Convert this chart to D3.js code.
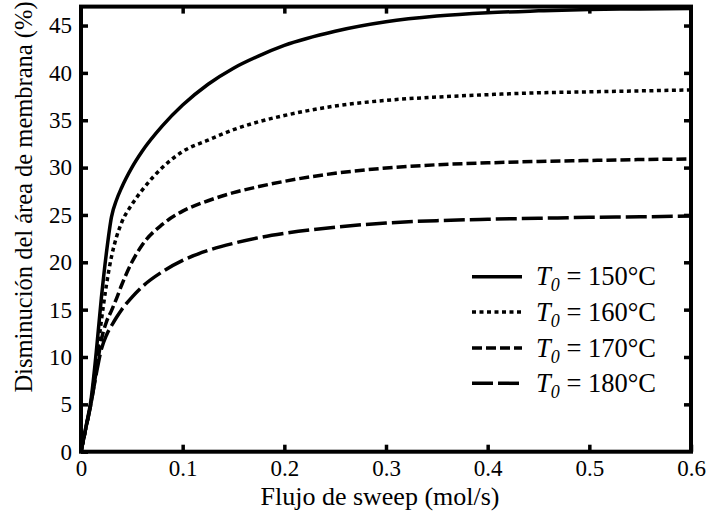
<!DOCTYPE html>
<html>
<head>
<meta charset="utf-8">
<script src="https://cdn.jsdelivr.net/npm/d3@7"></script>
<style>
  html, body { margin: 0; padding: 0; background: #fff; }
  svg { display: block; }
  text { font-family: "Liberation Serif", "Times New Roman", serif; fill: #000; }
</style>
</head>
<body>
<svg id="chart" width="710" height="514"></svg>
<script>
// Sweep flow rate (mol/s)
const flow = [0, 0.005, 0.01, 0.015, 0.02, 0.025, 0.03, 0.035, 0.04, 0.05, 0.06, 0.08,
              0.1, 0.125, 0.15, 0.175, 0.2, 0.25, 0.3, 0.35, 0.4, 0.45, 0.5, 0.55, 0.6];

// Reduction of membrane area (%) for each inlet temperature
const t150 = [0, 2.7, 5.6, 10.5, 16.2, 21.0, 24.8, 26.6, 27.9, 30.0, 31.7, 34.4,
              36.6, 38.8, 40.5, 41.8, 42.9, 44.4, 45.4, 46.0, 46.35, 46.55, 46.7, 46.75, 46.8];
const t160 = [0, 2.6, 5.3, 9.5, 13.8, 17.6, 20.6, 22.7, 24.2, 26.1, 27.6, 30.0,
              31.7, 32.9, 34.0, 34.85, 35.5, 36.5, 37.1, 37.45, 37.7, 37.9, 38.0, 38.1, 38.2];
const t170 = [0, 2.6, 5.2, 8.5, 11.8, 13.7, 14.9, 16.2, 17.6, 20.0, 21.8, 24.0,
              25.4, 26.5, 27.35, 28.0, 28.55, 29.4, 29.95, 30.3, 30.5, 30.65, 30.75, 30.85, 30.9];
const t180 = [0, 2.6, 5.2, 8.2, 10.8, 12.3, 13.3, 14.2, 15.0, 16.3, 17.4, 19.0,
              20.2, 21.25, 22.0, 22.6, 23.05, 23.7, 24.15, 24.4, 24.55, 24.65, 24.75, 24.8, 24.9];

const seriesLabels = ["150°C", "160°C", "170°C", "180°C"];
const xTicks = [0, 0.1, 0.2, 0.3, 0.4, 0.5, 0.6];
const yTicks = [0, 5, 10, 15, 20, 25, 30, 35, 40, 45];

const series = [
  { label: seriesLabels[0], values: t150, dash: null },
  { label: seriesLabels[1], values: t160, dash: "4,3.5" },
  { label: seriesLabels[2], values: t170, dash: "10,4" },
  { label: seriesLabels[3], values: t180, dash: "21,5" }
];

const svg = d3.select("#chart");
const plotLeft = 81, plotRight = 691, plotTop = 6.6, plotBottom = 451.7;

const x = d3.scaleLinear().domain([0, 0.6]).range([plotLeft, plotRight]);
const y = d3.scaleLinear().domain([0, 47]).range([plotBottom, plotTop]);

// curves
const line = d3.line()
  .x((d, i) => x(flow[i]))
  .y(d => y(d))
  .curve(d3.curveMonotoneX);

svg.append("g")
  .selectAll("path")
  .data(series)
  .join("path")
  .attr("d", d => line(d.values))
  .attr("fill", "none")
  .attr("stroke", "#000")
  .attr("stroke-width", 3.5)
  .attr("stroke-dasharray", d => d.dash);

// frame
svg.append("rect")
  .attr("x", plotLeft).attr("y", plotTop)
  .attr("width", plotRight - plotLeft).attr("height", plotBottom - plotTop)
  .attr("fill", "none").attr("stroke", "#000").attr("stroke-width", 4);

const tickLen = 7;
const fmtX = d => d === 0 ? "0" : d3.format(".1f")(d);

function styleAxis(g) {
  g.select(".domain").remove();
  g.selectAll(".tick line").attr("stroke", "#000").attr("stroke-width", 3.5);
  g.selectAll(".tick text").attr("font-size", 23).attr("fill", "#000")
    .attr("font-family", "Liberation Serif, serif");
}

svg.append("g")
  .attr("transform", `translate(0,${plotBottom})`)
  .call(d3.axisBottom(x).tickValues(xTicks).tickFormat(fmtX)
    .tickSizeInner(-tickLen).tickSizeOuter(0).tickPadding(8))
  .call(styleAxis);

svg.append("g")
  .attr("transform", `translate(0,${plotTop})`)
  .call(d3.axisTop(x).tickValues(xTicks.slice(1, -1)).tickFormat("")
    .tickSizeInner(-tickLen).tickSizeOuter(0))
  .call(styleAxis);

svg.append("g")
  .attr("transform", `translate(${plotLeft},0)`)
  .call(d3.axisLeft(y).tickValues(yTicks).tickFormat(d3.format("d"))
    .tickSizeInner(-tickLen).tickSizeOuter(0).tickPadding(9))
  .call(styleAxis);

svg.append("g")
  .attr("transform", `translate(${plotRight},0)`)
  .call(d3.axisRight(y).tickValues(yTicks.slice(1)).tickFormat("")
    .tickSizeInner(-tickLen).tickSizeOuter(0))
  .call(styleAxis);

// axis titles
svg.append("text")
  .attr("x", 380)
  .attr("y", 505)
  .attr("text-anchor", "middle")
  .attr("font-size", 26)
  .text("Flujo de sweep (mol/s)");

svg.append("text")
  .attr("transform", "translate(32,197) rotate(-90)")
  .attr("text-anchor", "middle")
  .attr("font-size", 24.5)
  .text("Disminución del área de membrana (%)");

// legend
const legendRowY = [276.7, 312, 348, 383.3];
const legend = svg.append("g");
series.forEach((s, i) => {
  const ly = legendRowY[i];
  legend.append("line")
    .attr("x1", 472).attr("x2", 522)
    .attr("y1", ly).attr("y2", ly)
    .attr("stroke", "#000").attr("stroke-width", 3.5)
    .attr("stroke-dasharray", s.dash);
  const t = legend.append("text")
    .attr("x", 536).attr("y", ly + 8.5)
    .attr("font-size", 26.5);
  t.append("tspan").attr("font-style", "italic").text("T");
  t.append("tspan").attr("font-style", "italic").attr("font-size", 18)
    .attr("dy", 6).text("0");
  t.append("tspan").attr("dy", -6).text(" = " + s.label);
});
</script>
</body>
</html>
